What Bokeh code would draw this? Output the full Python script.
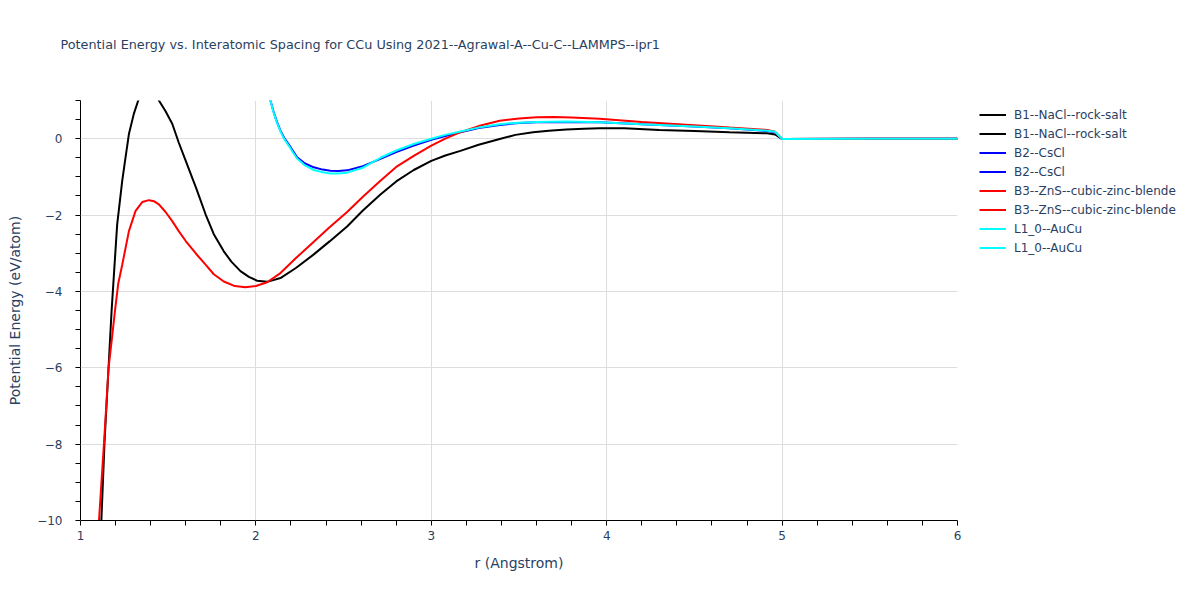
from bokeh.plotting import figure
from bokeh.models import Range1d, Legend, LegendItem, FixedTicker, Title
from bokeh.embed import file_html
from bokeh.resources import INLINE

TITLE = "Potential Energy vs. Interatomic Spacing for CCu Using 2021--Agrawal-A--Cu-C--LAMMPS--ipr1"
X_LABEL = "r (Angstrom)"
Y_LABEL = "Potential Energy (eV/atom)"

x_ticks = [1, 2, 3, 4, 5, 6]
x_tick_labels = ["1", "2", "3", "4", "5", "6"]
y_ticks = [-10, -8, -6, -4, -2, 0]
y_tick_labels = ["\u221210", "\u22128", "\u22126", "\u22124", "\u22122", "0"]

# B1--NaCl--rock-salt
b1_r = [1.118, 1.137, 1.161, 1.177, 1.19, 1.209, 1.238, 1.258, 1.276, 1.304, 1.329, 1.36, 1.39, 1.42, 1.447,
        1.485, 1.523, 1.56, 1.60, 1.66, 1.713, 1.76, 1.817, 1.86, 1.912, 1.96, 2.007, 2.064, 2.14, 2.23,
        2.33, 2.42, 2.52, 2.61, 2.71, 2.80, 2.90, 3.0, 3.08, 3.166, 3.27, 3.39, 3.48, 3.58, 3.67, 3.77,
        3.87, 3.96, 4.1, 4.3, 4.5, 4.7, 4.915, 4.96, 5.0, 5.5, 6.0]
b1_e = [-10.1, -7.95, -5.9, -4.53, -3.6, -2.25, -1.1, -0.45, 0.12, 0.65, 1.0, 1.35, 1.45, 1.35, 1.0,
        0.72, 0.39, -0.1, -0.58, -1.3, -1.98, -2.5, -2.95, -3.22, -3.47, -3.62, -3.72, -3.75, -3.65, -3.38,
        -3.03, -2.69, -2.30, -1.88, -1.46, -1.12, -0.82, -0.58, -0.44, -0.32, -0.16, -0.01, 0.1, 0.17, 0.21, 0.24,
        0.26, 0.27, 0.27, 0.23, 0.2, 0.17, 0.14, 0.11, -0.01, 0.0, 0.0]

# B2--CsCl
b2_r = [2.05, 2.083, 2.10, 2.12, 2.14, 2.16, 2.19, 2.21, 2.235, 2.28, 2.33, 2.38, 2.425, 2.47, 2.52,
        2.61, 2.71, 2.80, 2.90, 3.0, 3.08, 3.166, 3.27, 3.39, 3.5, 3.6, 3.77, 3.96, 4.2, 4.5, 4.7,
        4.915, 4.96, 5.0, 5.5, 6.0]
b2_e = [1.8, 1.0, 0.72, 0.44, 0.21, 0.03, -0.17, -0.31, -0.49, -0.65, -0.75, -0.81, -0.84, -0.845, -0.83,
        -0.72, -0.53, -0.35, -0.18, -0.03, 0.07, 0.17, 0.28, 0.36, 0.41, 0.43, 0.44, 0.43, 0.38, 0.32, 0.27,
        0.2, 0.17, -0.01, 0.0, 0.0]

# B3--ZnS--cubic-zinc-blende
b3_r = [1.104, 1.135, 1.16, 1.18, 1.196, 1.215, 1.238, 1.276, 1.314, 1.352, 1.39, 1.42, 1.447, 1.485,
        1.523, 1.56, 1.60, 1.66, 1.713, 1.76, 1.817, 1.88, 1.94, 2.0, 2.064, 2.14, 2.23, 2.33, 2.42, 2.52,
        2.61, 2.71, 2.80, 2.90, 3.0, 3.08, 3.166, 3.27, 3.39, 3.5, 3.6, 3.7, 3.8, 3.96, 4.2, 4.5, 4.7,
        4.915, 4.96, 5.0, 5.5, 6.0]
b3_e = [-10.1, -7.9, -6.0, -5.2, -4.53, -3.8, -3.3, -2.42, -1.89, -1.66, -1.61, -1.64, -1.72, -1.92,
        -2.16, -2.42, -2.68, -3.02, -3.3, -3.55, -3.74, -3.86, -3.89, -3.86, -3.76, -3.52, -3.12, -2.70, -2.32, -1.92,
        -1.52, -1.1, -0.74, -0.45, -0.18, 0.0, 0.17, 0.33, 0.47, 0.53, 0.56, 0.565, 0.555, 0.52, 0.44, 0.35, 0.29,
        0.23, 0.18, -0.01, 0.0, 0.0]

# L1_0--AuCu
l10_r = [2.05, 2.083, 2.10, 2.12, 2.14, 2.16, 2.19, 2.21, 2.235, 2.28, 2.33, 2.38, 2.425, 2.47, 2.52,
         2.61, 2.71, 2.80, 2.90, 3.0, 3.08, 3.166, 3.27, 3.39, 3.5, 3.6, 3.77, 3.96, 4.2, 4.5, 4.7,
         4.915, 4.96, 5.0, 5.5, 6.0]
l10_e = [1.8, 1.0, 0.7, 0.42, 0.19, 0.0, -0.2, -0.35, -0.52, -0.70, -0.82, -0.88, -0.91, -0.915, -0.89,
         -0.76, -0.5, -0.31, -0.14, 0.0, 0.1, 0.19, 0.29, 0.38, 0.42, 0.44, 0.45, 0.43, 0.38, 0.32, 0.27,
         0.21, 0.18, -0.01, 0.0, 0.0]

series = [
    ("B1--NaCl--rock-salt", b1_r, b1_e, "black"),
    ("B2--CsCl", b2_r, b2_e, "blue"),
    ("B3--ZnS--cubic-zinc-blende", b3_r, b3_e, "red"),
    ("L1_0--AuCu", l10_r, l10_e, "cyan"),
]

FONT = "DejaVu Sans"
TXT = "#2a3f5f"

p = figure(frame_width=877, frame_height=420, output_backend="svg", toolbar_location=None,
           x_range=Range1d(1, 6), y_range=Range1d(-10, 1),
           min_border_left=80, min_border_top=100, min_border_bottom=64, min_border_right=227)
p.background_fill_color = "white"
p.border_fill_color = "white"
p.outline_line_color = None

# spacer panel between frame and title (closest to frame), then the title
spacer = Title(text=" ", text_font_size="1px", standoff=46, text_color="white")
p.add_layout(spacer, "above")
title = Title(text=TITLE, text_font=FONT, text_font_size="12.8px", text_font_style="normal",
              text_color=TXT, align="left", offset=-20, standoff=0, vertical_align="bottom")
p.add_layout(title, "above")

for ax in (p.xaxis[0], p.yaxis[0]):
    ax.axis_line_color = "black"
    ax.axis_line_width = 1
    ax.major_tick_line_color = "#bbbbbb"
    ax.minor_tick_line_color = "black"
    ax.major_tick_in = 0
    ax.major_tick_out = 5
    ax.minor_tick_in = 0
    ax.minor_tick_out = 5
    ax.major_label_text_font = FONT
    ax.major_label_text_font_size = "12px"
    ax.major_label_text_color = TXT
    ax.axis_label_text_font = FONT
    ax.axis_label_text_font_size = "14px"
    ax.axis_label_text_font_style = "normal"
    ax.axis_label_text_color = TXT

p.xaxis.ticker = FixedTicker(ticks=x_ticks, minor_ticks=[1 + 0.2 * i for i in range(26)])
p.xaxis.major_label_overrides = dict(zip(x_ticks, x_tick_labels))
p.yaxis.ticker = FixedTicker(ticks=y_ticks, minor_ticks=[-10 + 0.5 * i for i in range(23)])
p.yaxis.major_label_overrides = dict(zip(y_ticks, y_tick_labels))
p.xaxis.axis_label = X_LABEL
p.yaxis.axis_label = Y_LABEL
p.xaxis.major_label_standoff = 5
p.xaxis.axis_label_standoff = 12
p.yaxis.major_label_standoff = 13
p.yaxis.axis_label_standoff = 11

p.xgrid.grid_line_color = "#dddddd"
p.ygrid.grid_line_color = "#dddddd"
p.xgrid.grid_line_width = 1
p.ygrid.grid_line_width = 1

items = []
for name, r, e, col in series:
    rend = p.line(r, e, line_color=col, line_width=2)
    items.append(LegendItem(label=name, renderers=[rend]))
    items.append(LegendItem(label=name, renderers=[rend]))

legend = Legend(items=items, location=(18, 259))
legend.border_line_alpha = 0
legend.background_fill_alpha = 0
legend.padding = 4
legend.margin = 0
legend.spacing = 0
legend.glyph_width = 27
legend.glyph_height = 19
legend.label_height = 19
legend.label_standoff = 8
legend.label_text_font = FONT
legend.label_text_font_size = "12px"
legend.label_text_color = TXT
p.add_layout(legend, "right")

open("out.html", "w").write(file_html(p, INLINE))
